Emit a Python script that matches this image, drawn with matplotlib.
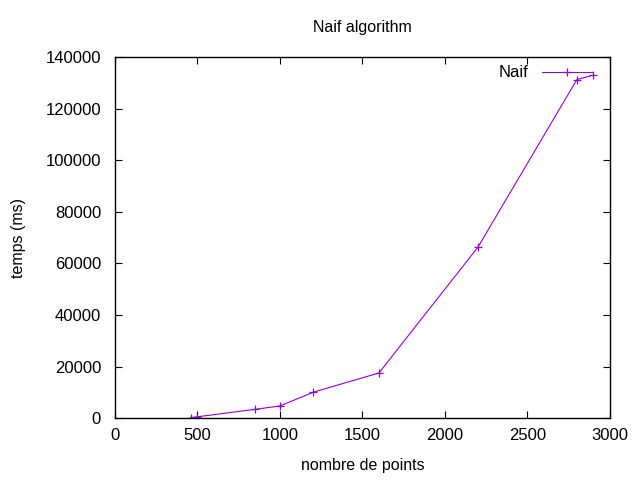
import matplotlib
matplotlib.use("Agg")
import matplotlib.pyplot as plt

plt.rcParams['font.family'] = ['Liberation Sans', 'DejaVu Sans']

# nombre de points / temps (ms)
nb_points = [460, 500, 850, 1000, 1200, 1600, 2200, 2800, 2900]
temps_ms = [200, 500, 3400, 4700, 10000, 17500, 66300, 131300, 133000]

fig = plt.figure(figsize=(6.4, 4.8), dpi=100)
ax = fig.add_axes([0.1797, 0.129, 0.7733, 0.752])

ax.plot(nb_points, temps_ms, color='#9400D3', lw=0.8, marker='+', ms=6, mew=0.9, label='Naif')

ax.set_xlim(0, 3000)
ax.set_ylim(0, 140000)
ax.set_xticks(range(0, 3001, 500))
ax.set_yticks(range(0, 140001, 20000))
ax.tick_params(direction='in', top=True, right=True, labelsize=12, length=5, pad=10)
ax.tick_params(axis='x', pad=7)
for sp in ax.spines.values():
    sp.set_linewidth(1.0)

ax.set_title('Naif algorithm', fontsize=11.5, pad=18)
ax.set_xlabel('nombre de points', fontsize=11.5, labelpad=11)
ax.set_ylabel('temps (ms)', fontsize=11.5, labelpad=14)

ax.legend(loc='upper right', bbox_to_anchor=(0.98, 1.0), frameon=False,
          markerfirst=False, fontsize=12, handlelength=3.0, handletextpad=0.8,
          borderaxespad=0.1)

fig.savefig('out.png', dpi=100)
